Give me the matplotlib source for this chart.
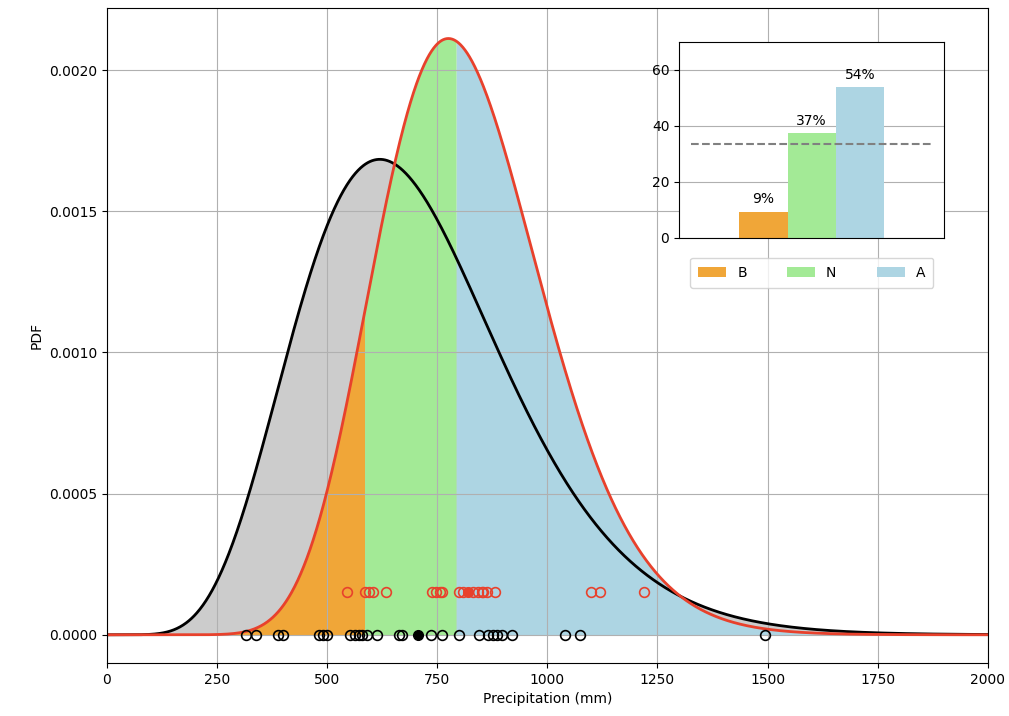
import math
import numpy as np
import matplotlib
matplotlib.use("Agg")
import matplotlib.pyplot as plt
from matplotlib.ticker import FormatStrFormatter

# gamma parameters (shape, scale)
clim_shape, clim_scale = 8.0, 88.5
fcst_shape, fcst_scale = 18.0, 45.6

# tercile limits of the climatology (mm)
lower_tercile = 585
upper_tercile = 793

# observed seasonal totals (mm), black circles
obs_years = [316, 338, 389, 399, 482, 491, 500, 552, 563, 573, 580, 590, 614,
             663, 669, 735, 760, 800, 845, 866, 876, 885, 896, 919, 1040,
             1074, 1495]
obs_current = 707

# forecast ensemble members (mm), red circles
ens_members = [545, 587, 596, 604, 633, 738, 747, 756, 761, 800, 808, 831,
               843, 851, 854, 862, 881, 1100, 1119, 1219]
ens_highlight = 820

# inset probabilities
categories = ["B", "N", "A"]
probs = [9.2, 37.2, 53.6]
prob_labels = ["9%", "37%", "54%"]

c_gray = "#cccccc"
c_orange = "#f0a638"
c_green = "#a3ea96"
c_blue = "#add5e3"
c_red = "#e8412c"


def gamma_pdf(x, k, theta):
    out = np.zeros_like(x)
    pos = x > 0
    xp = x[pos]
    out[pos] = np.exp((k - 1) * np.log(xp) - xp / theta
                      - math.lgamma(k) - k * math.log(theta))
    return out


x = np.linspace(0, 2000, 2001)
clim = gamma_pdf(x, clim_shape, clim_scale)
fcst = gamma_pdf(x, fcst_shape, fcst_scale)

fig = plt.figure(figsize=(10.09, 7.16), dpi=100)
ax = fig.add_axes([0.106, 0.074, 0.873, 0.915])

ax.fill_between(x, 0, clim, color=c_gray, lw=0)
ax.fill_between(x, 0, fcst, where=x <= lower_tercile, color=c_orange, lw=0)
ax.fill_between(x, 0, fcst, where=(x >= lower_tercile) & (x <= upper_tercile),
                color=c_green, lw=0)
ax.fill_between(x, 0, fcst, where=x >= upper_tercile, color=c_blue, lw=0)

ax.plot(x, clim, color="black", lw=2)
ax.plot(x, fcst, color=c_red, lw=2)

ax.plot(obs_years, np.zeros(len(obs_years)), "o", mfc="none", mec="black",
        ms=7, mew=1.2)
ax.plot([obs_current], [0], "o", color="black", ms=7)
ax.plot(ens_members, np.full(len(ens_members), 0.00015), "o", mfc="none",
        mec=c_red, ms=7, mew=1.2)
ax.plot([ens_highlight], [0.00015], "o", color=c_red, ms=7)

ax.set_xlim(0, 2000)
ax.set_ylim(-0.0001, 0.00222)
ax.yaxis.set_major_formatter(FormatStrFormatter("%.4f"))
ax.grid(True)
ax.set_xlabel("Precipitation (mm)")
ax.set_ylabel("PDF")

# inset with tercile probabilities
ins = fig.add_axes([0.673, 0.668, 0.263, 0.274])
bar_colors = [c_orange, c_green, c_blue]
for i in range(len(categories)):
    ins.bar(i, probs[i], width=1, color=bar_colors[i], label=categories[i])
    ins.annotate(prob_labels[i], (i, probs[i]), xytext=(0, 4),
                 textcoords="offset points", ha="center", va="bottom")
ins.hlines(100 / 3, -1.5, 3.5, colors="gray", linestyles="--", lw=1.5)
ins.set_xlim(-1.75, 3.75)
ins.set_ylim(0, 70)
ins.set_yticks([0, 20, 40, 60])
ins.set_xticks([])
ins.grid(True, axis="y")
ins.set_axisbelow(True)
ins.legend(loc="upper center", bbox_to_anchor=(0.015, -0.166, 0.97, 0.1),
           mode="expand", ncol=3, borderpad=0.6)

plt.savefig("out.png", dpi=100)
